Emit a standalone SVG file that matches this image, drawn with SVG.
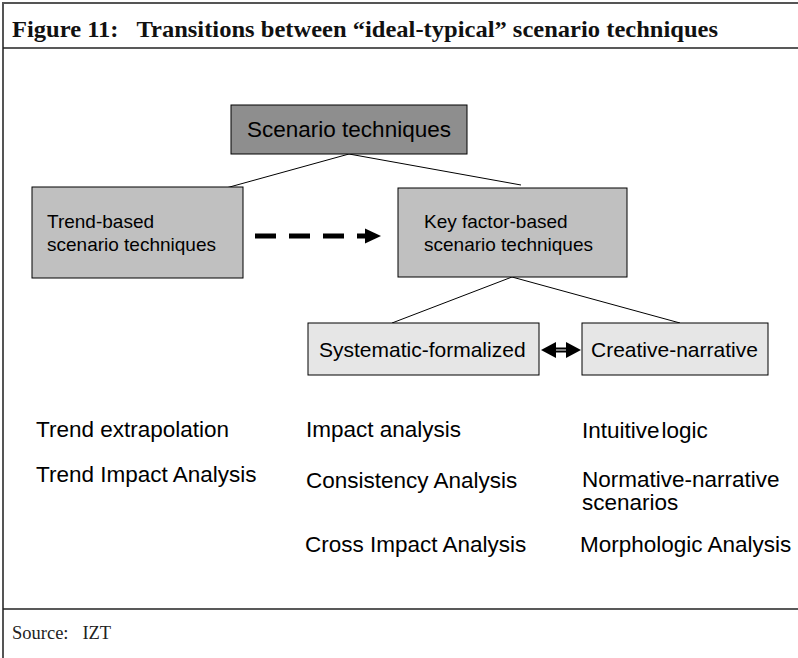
<svg xmlns="http://www.w3.org/2000/svg" width="798" height="658" viewBox="0 0 798 658">
<style>
.frame{fill:none;stroke:#555;stroke-width:2}
.sep{stroke:#222;stroke-width:1.5}
.title{font-family:"Liberation Serif","Times New Roman",serif;font-weight:bold;font-size:23px;fill:#111}
.src{font-family:"Liberation Serif","Times New Roman",serif;font-size:18.5px;fill:#222}
.t{font-family:"Liberation Sans",Arial,sans-serif;font-size:22.5px;fill:#000}
.tm{font-family:"Liberation Sans",Arial,sans-serif;font-size:21px;fill:#000}
.tb{font-family:"Liberation Sans",Arial,sans-serif;font-size:19px;fill:#000}
.box{stroke:#000;stroke-width:1}
.con{stroke:#000;stroke-width:1;fill:none}
</style>
<rect width="798" height="658" fill="#fff"/>
<rect class="frame" x="3" y="3" width="800" height="660"/>
<line class="sep" x1="3" y1="48" x2="798" y2="48"/>
<line class="sep" x1="3" y1="609" x2="798" y2="609"/>
<text class="title" x="12" y="37" textLength="706" lengthAdjust="spacingAndGlyphs" xml:space="preserve">Figure 11:   Transitions between “ideal-typical” scenario techniques</text>
<text class="src" x="12" y="639" xml:space="preserve">Source:   IZT</text>
<g id="connectors">
<line class="con" x1="349" y1="154" x2="226" y2="188"/>
<line class="con" x1="349" y1="154" x2="521" y2="185"/>
<line class="con" x1="512" y1="277" x2="392" y2="323"/>
<line class="con" x1="512" y1="277" x2="680" y2="323"/>
<line x1="255" y1="236" x2="368" y2="236" stroke="#000" stroke-width="5" stroke-dasharray="21 13"/>
<polygon points="365,228.5 381,236 365,243.5" fill="#000"/>
<line x1="551" y1="350" x2="571" y2="350" stroke="#000" stroke-width="5"/>
<line x1="553" y1="350" x2="569" y2="350" stroke="#fff" stroke-width="1"/>
<polygon points="541,350 556,342 556,358" fill="#000"/>
<polygon points="581,350 566,342 566,358" fill="#000"/>
</g>
<g id="scenario-techniques">
<rect class="box" x="231" y="105" width="236" height="49" fill="#8e8e8e"/>
<text class="t" x="349" y="137" text-anchor="middle">Scenario techniques</text>
</g>
<g id="trend-based">
<rect class="box" x="32" y="187" width="211" height="91" fill="#c0c0c0"/>
<text class="tb" x="47" y="228">Trend-based</text>
<text class="tb" x="47" y="251">scenario techniques</text>
</g>
<g id="key-factor-based">
<rect class="box" x="398" y="188" width="229" height="89" fill="#c0c0c0"/>
<text class="tb" x="424" y="228">Key factor-based</text>
<text class="tb" x="424" y="251">scenario techniques</text>
</g>
<g id="systematic-formalized">
<rect class="box" x="308" y="323" width="231" height="52" fill="#e6e6e6"/>
<text class="tm" x="319" y="357">Systematic-formalized</text>
</g>
<g id="creative-narrative">
<rect class="box" x="582" y="323" width="186" height="52" fill="#e6e6e6"/>
<text class="tm" x="591" y="357">Creative-narrative</text>
</g>
<g id="lists">
<text class="t" x="36" y="437">Trend extrapolation</text>
<text class="t" x="36" y="482">Trend Impact Analysis</text>
<text class="t" x="306" y="437">Impact analysis</text>
<text class="t" x="306" y="488">Consistency Analysis</text>
<text class="t" x="305" y="552">Cross Impact Analysis</text>
<text class="t" x="582" y="438">Intuitive<tspan dx="2">logic</tspan></text>
<text class="t" x="582" y="487">Normative-narrative</text>
<text class="t" x="582" y="510">scenarios</text>
<text class="t" x="580" y="552">Morphologic Analysis</text>
</g>
</svg>
